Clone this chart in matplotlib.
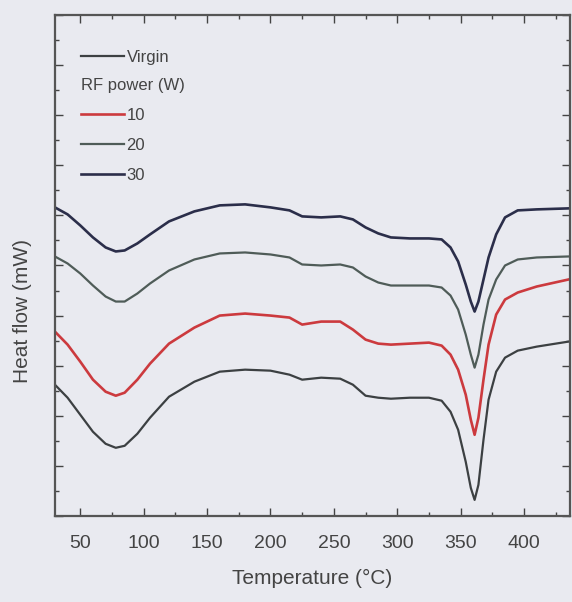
import matplotlib
matplotlib.use("Agg")
import matplotlib.pyplot as plt
from matplotlib.ticker import MultipleLocator, NullFormatter

plt.rcParams['font.family'] = ['Liberation Sans Narrow', 'Liberation Sans', 'DejaVu Sans']

temperature = [30, 40, 50, 60, 70, 78, 85, 95, 105, 120, 140, 160, 180, 200, 215, 225,
               240, 255, 265, 275, 285, 295, 310, 325, 335, 342, 348, 354, 358, 361,
               364, 368, 372, 378, 385, 395, 410, 435]

rf30 = [61.6, 60.2, 58.0, 55.6, 53.6, 52.8, 53.0, 54.4, 56.2, 58.8, 60.8, 62.0, 62.2, 61.6,
        61.0, 59.8, 59.6, 59.8, 59.2, 57.6, 56.4, 55.6, 55.4, 55.4, 55.2, 53.6, 50.8, 46.2,
        42.8, 40.8, 42.8, 47.2, 51.6, 56.2, 59.6, 61.0, 61.2, 61.4]

rf20 = [51.8, 50.4, 48.4, 46.0, 43.8, 42.8, 42.8, 44.4, 46.4, 49.0, 51.2, 52.4, 52.6, 52.2,
        51.6, 50.2, 50.0, 50.2, 49.6, 47.8, 46.6, 46.0, 46.0, 46.0, 45.6, 44.0, 41.2, 36.2,
        32.2, 29.6, 32.2, 38.2, 43.2, 47.2, 50.0, 51.2, 51.6, 51.8]

rf10 = [36.8, 34.2, 30.8, 27.2, 24.8, 24.0, 24.6, 27.2, 30.4, 34.4, 37.6, 40.0, 40.4, 40.0,
        39.6, 38.2, 38.8, 38.8, 37.2, 35.2, 34.4, 34.2, 34.4, 34.6, 34.0, 32.2, 29.2, 24.2,
        19.2, 16.2, 19.6, 27.2, 34.2, 40.2, 43.2, 44.6, 45.8, 47.2]

virgin = [26.2, 23.6, 20.2, 16.8, 14.4, 13.6, 14.0, 16.4, 19.6, 23.8, 26.8, 28.8, 29.2, 29.0,
          28.2, 27.2, 27.6, 27.4, 26.2, 24.0, 23.6, 23.4, 23.6, 23.6, 23.0, 20.8, 17.2, 10.8,
          5.6, 3.2, 6.2, 15.2, 23.2, 28.8, 31.6, 33.0, 33.8, 34.8]

bg = "#e9eaf0"
txt = "#444444"
fig = plt.figure(figsize=(5.72, 6.02), dpi=100, facecolor=bg)
ax = fig.add_axes([0.096, 0.143, 0.9, 0.832], facecolor=bg)

l_v, = ax.plot(temperature, virgin, color="#3c4042", lw=1.6)
l_10, = ax.plot(temperature, rf10, color="#cc3a3e", lw=1.9)
l_20, = ax.plot(temperature, rf20, color="#4f5c58", lw=1.6)
l_30, = ax.plot(temperature, rf30, color="#2b2e4a", lw=1.9)

ax.set_xlim(30, 436)
ax.set_ylim(0, 100)
ax.xaxis.set_major_locator(MultipleLocator(50))
ax.xaxis.set_minor_locator(MultipleLocator(25))
ax.yaxis.set_major_locator(MultipleLocator(10))
ax.yaxis.set_minor_locator(MultipleLocator(5))
ax.yaxis.set_major_formatter(NullFormatter())
ax.tick_params(which="both", direction="in", top=True, right=True, color=txt)
ax.tick_params(which="major", length=6, width=1)
ax.tick_params(which="minor", length=3, width=1)
ax.tick_params(axis="x", labelsize=14, colors=txt, pad=14)
for s in ax.spines.values():
    s.set_color("#555555")
    s.set_linewidth(1.6)

ax.set_xlabel("Temperature (°C)", fontsize=15, color=txt, labelpad=12)
ax.set_ylabel("Heat flow (mW)", fontsize=15, color=txt)
ax.yaxis.set_label_coords(-0.045, 0.41)

leg1 = ax.legend([l_v], ["Virgin"], loc="upper left", bbox_to_anchor=(0.05, 0.93),
                 frameon=False, fontsize=12, handlelength=2.6, handletextpad=0.15,
                 borderaxespad=0, borderpad=0)
for t in leg1.get_texts():
    t.set_color(txt)
ax.add_artist(leg1)
leg2 = ax.legend([l_10, l_20, l_30], ["10", "20", "30"], loc="upper left",
                 bbox_to_anchor=(0.05, 0.875), frameon=False, fontsize=12,
                 title="RF power (W)", title_fontsize=12, alignment="left",
                 handlelength=2.6, handletextpad=0.15, labelspacing=0.9,
                 borderaxespad=0, borderpad=0)
leg2.get_title().set_color(txt)
for t in leg2.get_texts():
    t.set_color(txt)

fig.savefig("out.png", dpi=100, facecolor=bg)
